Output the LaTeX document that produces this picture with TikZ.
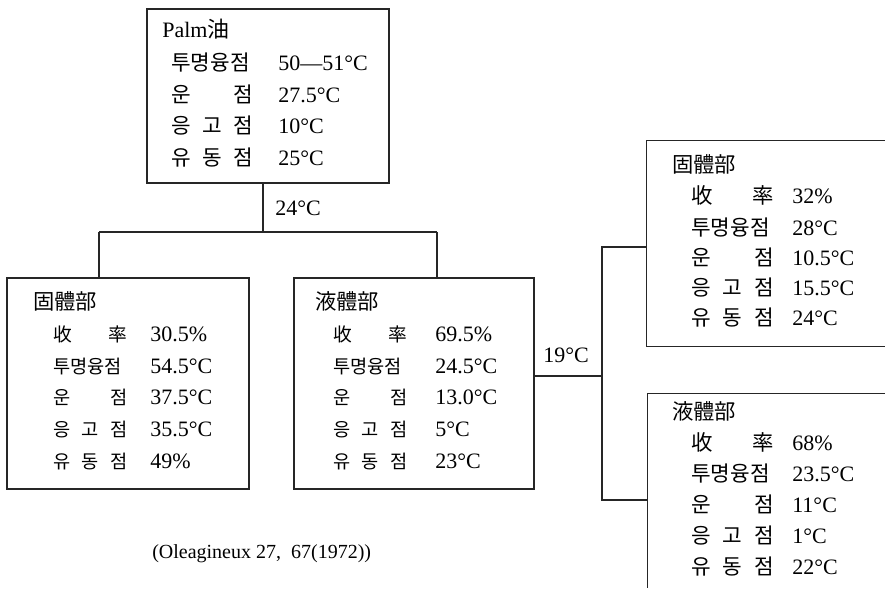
\documentclass[tikz,border=0pt]{standalone}
\usepackage{fontspec}
\setmainfont{Liberation Serif}
\newfontfamily\kr{Noto Sans CJK KR}
\usetikzlibrary{fit}
\newdimen\pxu \pxu=0.75pt
\newcommand\lbl[2]{\makebox[#1\pxu][s]{#2}}
\begin{document}
\begin{tikzpicture}[x=0.75pt,y=-0.75pt,
  box/.style={draw=black!85, line width=0.9pt, inner sep=0pt, rectangle},
  openbox/.style={inner sep=0pt, rectangle},
  ln/.style={draw=black!85, line width=0.9pt},
  txt/.style={inner sep=0pt, anchor=base west, font=\fontsize{16.5}{18}\selectfont},
  cite/.style={inner sep=0pt, anchor=base west, font=\fontsize{15}{18}\selectfont},
  krl/.style={inner sep=0pt, anchor=base west, font=\kr\fontsize{16}{18}\selectfont},
  krs/.style={inner sep=0pt, anchor=base west, font=\kr\fontsize{14}{18}\selectfont},
  krt/.style={inner sep=0pt, anchor=base west, font=\kr\fontsize{16}{18}\selectfont},
]
\useasboundingbox (0,0) rectangle (885,599);

% boxes
\node[box, fit={(147,9) (389,183)}] (top) {};
\node[box, fit={(7,278) (249,489)}] (L) {};
\node[box, fit={(294,278) (534,489)}] (M) {};
\node[openbox, fit={(647,141) (885,346)}] (RT) {};
\node[openbox, fit={(648,394) (885,588)}] (RB) {};
\draw[ln] (RT.north east) -- (RT.north west) -- (RT.south west) -- (RT.south east);
\draw[ln] (RB.north east) -- (RB.north west) -- (RB.south west);

% top box text
\node[txt] (t0) at (162,38) {Palm{\kr 油}};
\node[krl] (t1l) at (171,71) {\lbl{82}{투명융점}};
\node[txt] (t1v) at (278,71) {50—51°C};
\node[krl] (t2l) at (171,103) {\lbl{82}{운\hfill 점}};
\node[txt] (t2v) at (278,103) {27.5°C};
\node[krl] (t3l) at (171,134) {\lbl{82}{응\hfill 고\hfill 점}};
\node[txt] (t3v) at (278,134) {10°C};
\node[krl] (t4l) at (171,166) {\lbl{82}{유\hfill 동\hfill 점}};
\node[txt] (t4v) at (278,166) {25°C};

% left box
\node[krt] (l0) at (33,309) {固體部};
\node[krs] (l1l) at (53,341) {\lbl{74}{收\hfill 率}};
\node[txt] (l1v) at (150,341) {30.5\%};
\node[krs] (l2l) at (53,373) {\lbl{74}{투명융점}};
\node[txt] (l2v) at (150,373) {54.5°C};
\node[krs] (l3l) at (53,404) {\lbl{74}{운\hfill 점}};
\node[txt] (l3v) at (150,404) {37.5°C};
\node[krs] (l4l) at (53,436) {\lbl{74}{응\hfill 고\hfill 점}};
\node[txt] (l4v) at (150,436) {35.5°C};
\node[krs] (l5l) at (53,468) {\lbl{74}{유\hfill 동\hfill 점}};
\node[txt] (l5v) at (150,468) {49\%};

% middle box
\node[krt] (m0) at (315,309) {液體部};
\node[krs] (m1l) at (333,341) {\lbl{74}{收\hfill 率}};
\node[txt] (m1v) at (435,341) {69.5\%};
\node[krs] (m2l) at (333,373) {\lbl{74}{투명융점}};
\node[txt] (m2v) at (435,373) {24.5°C};
\node[krs] (m3l) at (333,404) {\lbl{74}{운\hfill 점}};
\node[txt] (m3v) at (435,404) {13.0°C};
\node[krs] (m4l) at (333,436) {\lbl{74}{응\hfill 고\hfill 점}};
\node[txt] (m4v) at (435,436) {5°C};
\node[krs] (m5l) at (333,468) {\lbl{74}{유\hfill 동\hfill 점}};
\node[txt] (m5v) at (435,468) {23°C};

% right top box
\node[krt] (a0) at (672,173) {固體部};
\node[krl] (a1l) at (691,204) {\lbl{83}{收\hfill 率}};
\node[txt] (a1v) at (792,204) {32\%};
\node[krl] (a2l) at (691,235) {\lbl{83}{투명융점}};
\node[txt] (a2v) at (792,235) {28°C};
\node[krl] (a3l) at (691,265) {\lbl{83}{운\hfill 점}};
\node[txt] (a3v) at (792,265) {10.5°C};
\node[krl] (a4l) at (691,295) {\lbl{83}{응\hfill 고\hfill 점}};
\node[txt] (a4v) at (792,295) {15.5°C};
\node[krl] (a5l) at (691,325) {\lbl{83}{유\hfill 동\hfill 점}};
\node[txt] (a5v) at (792,325) {24°C};

% right bottom box
\node[krt] (b0) at (672,419) {液體部};
\node[krl] (b1l) at (691,450) {\lbl{83}{收\hfill 率}};
\node[txt] (b1v) at (792,450) {68\%};
\node[krl] (b2l) at (691,481) {\lbl{83}{투명융점}};
\node[txt] (b2v) at (792,481) {23.5°C};
\node[krl] (b3l) at (691,512) {\lbl{83}{운\hfill 점}};
\node[txt] (b3v) at (792,512) {11°C};
\node[krl] (b4l) at (691,543) {\lbl{83}{응\hfill 고\hfill 점}};
\node[txt] (b4v) at (792,543) {1°C};
\node[krl] (b5l) at (691,574) {\lbl{83}{유\hfill 동\hfill 점}};
\node[txt] (b5v) at (792,574) {22°C};

% connectors: first split
\coordinate (hl) at (99,232);
\coordinate (hr) at (437,232);
\coordinate (hv) at (263,232);
\draw[ln] (hv |- top.south) -- (hv);
\draw[ln] (hl) -- (hr);
\draw[ln] (hl) -- (hl |- L.north);
\draw[ln] (hr) -- (hr |- M.north);
\node[txt] (c24) at (275,215) {24°C};

% second split
\coordinate (bm) at (602,376);
\coordinate (bt) at (602,247);
\coordinate (bb) at (602,500);
\draw[ln] (bm -| M.east) -- (bm);
\draw[ln] (bt -| RT.west) -- (bt) -- (bb) -- (bb -| RB.west);
\node[txt] (c19) at (543,362) {19°C};

% citation
\node[cite] (src) at (152,558) {(Oleagineux 27,\enspace 67(1972))};
\end{tikzpicture}
\end{document}
